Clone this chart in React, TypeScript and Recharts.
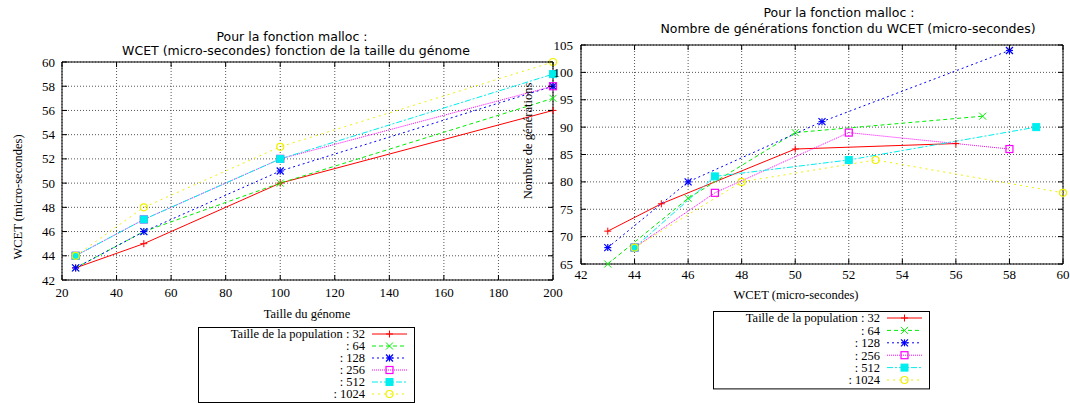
import React from 'react';
import { LineChart, Line, XAxis, YAxis, CartesianGrid, ReferenceArea } from 'recharts';

// x values of the left chart
const genomeSizes = [25, 50, 100, 200];
const populations = ['32', '64', '128', '256', '512', '1024'];

// WCET (micro-secondes) per population size
const wcet32 = [43, 45, 50, 56];
const wcet64 = [43, 46, 50, 57];
const wcet128 = [43, 46, 51, 58];
const wcet256 = [44, 47, 52, 58];
const wcet512 = [44, 47, 52, 59];
const wcet1024 = [44, 48, 53, 60];

// Nombre de générations per population size
const gen32 = [71, 76, 86, 87];
const gen64 = [65, 77, 89, 92];
const gen128 = [68, 80, 91, 104];
const gen256 = [68, 78, 89, 86];
const gen512 = [68, 81, 84, 90];
const gen1024 = [68, 80, 84, 78];

const sizeTicks = [20, 40, 60, 80, 100, 120, 140, 160, 180, 200];
const wcetTicks = [42, 44, 46, 48, 50, 52, 54, 56, 58, 60];
const genTicks = [65, 70, 75, 80, 85, 90, 95, 100, 105];

const wcetSeries = [wcet32, wcet64, wcet128, wcet256, wcet512, wcet1024];
const genSeries = [gen32, gen64, gen128, gen256, gen512, gen1024];

type MarkerKind = 'plus' | 'cross' | 'star' | 'box' | 'fbox' | 'circle';

const styles: { color: string; dash?: string; marker: MarkerKind }[] = [
  { color: '#ff0000', marker: 'plus' },
  { color: '#00ee00', dash: '4 3', marker: 'cross' },
  { color: '#0000ff', dash: '2 3', marker: 'star' },
  { color: '#ff00ff', dash: '1 1', marker: 'box' },
  { color: '#00eeee', dash: '6 2 2 2', marker: 'fbox' },
  { color: '#f0f000', dash: '2 4', marker: 'circle' },
];

const leftData = wcetSeries.map((s) => genomeSizes.map((g, i) => ({ x: g, y: s[i] })));
const rightData = wcetSeries.map((s, k) => s.map((w, i) => ({ x: w, y: genSeries[k][i] })));

const serif = '"Liberation Serif", "DejaVu Serif", serif';
const sans = '"DejaVu Sans", sans-serif';

const Marker = ({ kind, color, cx, cy }: { kind: MarkerKind; color: string; cx: number; cy: number }) => {
  const s = 3.5;
  if (cx == null || cy == null) return null;
  switch (kind) {
    case 'plus':
      return (
        <g stroke={color} strokeWidth={1}>
          <line x1={cx - s} y1={cy} x2={cx + s} y2={cy} />
          <line x1={cx} y1={cy - s} x2={cx} y2={cy + s} />
        </g>
      );
    case 'cross':
      return (
        <g stroke={color} strokeWidth={1}>
          <line x1={cx - s} y1={cy - s} x2={cx + s} y2={cy + s} />
          <line x1={cx - s} y1={cy + s} x2={cx + s} y2={cy - s} />
        </g>
      );
    case 'star':
      return (
        <g stroke={color} strokeWidth={1.2}>
          <line x1={cx - s} y1={cy} x2={cx + s} y2={cy} />
          <line x1={cx} y1={cy - s} x2={cx} y2={cy + s} />
          <line x1={cx - s} y1={cy - s} x2={cx + s} y2={cy + s} />
          <line x1={cx - s} y1={cy + s} x2={cx + s} y2={cy - s} />
        </g>
      );
    case 'box':
      return <rect x={cx - s} y={cy - s} width={2 * s} height={2 * s} fill="none" stroke={color} strokeWidth={1.2} />;
    case 'fbox':
      return <rect x={cx - s} y={cy - s} width={2 * s} height={2 * s} fill={color} stroke={color} />;
    default:
      return <circle cx={cx} cy={cy} r={s} fill="none" stroke={color} strokeWidth={1.2} />;
  }
};

// gnuplot-like ticks: label outside, small marks inside on both sides
const makeYTick = (left: number, right: number) => (p: any) => (
  <g>
    <text x={p.x} y={p.y} dy="0.35em" textAnchor="end" fontFamily={serif} fontSize={13} fill="#000">
      {p.payload.value}
    </text>
    <line x1={left} x2={left + 5} y1={p.y} y2={p.y} stroke="#000" />
    <line x1={right - 5} x2={right} y1={p.y} y2={p.y} stroke="#000" />
  </g>
);

const makeXTick = (top: number, bottom: number) => (p: any) => (
  <g>
    <text x={p.x} y={p.y} dy="0.71em" textAnchor="middle" fontFamily={serif} fontSize={13} fill="#000">
      {p.payload.value}
    </text>
    <line x1={p.x} x2={p.x} y1={bottom} y2={bottom - 5} stroke="#000" />
    <line x1={p.x} x2={p.x} y1={top} y2={top + 5} stroke="#000" />
  </g>
);

const renderLines = (data: { x: number; y: number }[][]) =>
  data.map((d, k) => (
    <Line
      key={populations[k]}
      name={populations[k]}
      data={d}
      dataKey="y"
      type="linear"
      stroke={styles[k].color}
      strokeDasharray={styles[k].dash}
      strokeWidth={1}
      activeDot={false}
      isAnimationActive={false}
      dot={(p: any) => (
        <Marker key={`${k}-${p.index}`} kind={styles[k].marker} color={styles[k].color} cx={p.cx} cy={p.cy} />
      )}
    />
  ));

const LegendBox = ({ x, y, step }: { x: number; y: number; step: number }) => (
  <g transform={`translate(${x},${y})`}>
    <rect x={0.5} y={0.5} width={216} height={step * 6 + 3} fill="none" stroke="#000" />
    {populations.map((p, i) => {
      const ry = 7 + i * step;
      const st = styles[i];
      return (
        <g key={p}>
          <text x={167} y={ry} dy="0.35em" textAnchor="end" fontFamily={serif} fontSize={12.5} fill="#000">
            {i === 0 ? `Taille de la population : ${p}` : `: ${p}`}
          </text>
          <line x1={174} x2={209} y1={ry} y2={ry} stroke={st.color} strokeDasharray={st.dash} />
          <Marker kind={st.marker} color={st.color} cx={191.5} cy={ry} />
        </g>
      );
    })}
  </g>
);

const App = () => {
  return (
    <div style={{ position: 'absolute', left: 0, top: 0, width: 1070, height: 403, overflow: 'hidden', background: '#fff' }}>
      <div style={{ position: 'absolute', left: 0, top: 0 }}>
        <LineChart width={580} height={300} margin={{ top: 62, right: 27, bottom: 0, left: 0 }}>
          <CartesianGrid stroke="#555" strokeDasharray="1 2" />
          <XAxis
            type="number"
            dataKey="x"
            domain={[20, 200]}
            ticks={sizeTicks}
            interval={0}
            height={20}
            tickSize={0}
            tickMargin={8}
            axisLine={false}
            tick={makeXTick(62, 280)}
          />
          <YAxis
            type="number"
            domain={[42, 60]}
            ticks={wcetTicks}
            interval={0}
            width={62}
            tickSize={0}
            tickMargin={7}
            axisLine={false}
            tick={makeYTick(62, 553)}
          />
          <ReferenceArea x1={20} x2={200} y1={42} y2={60} fill="none" stroke="#000" strokeWidth={1} />
          {renderLines(leftData)}
        </LineChart>
      </div>
      <div style={{ position: 'absolute', left: 530, top: 0 }}>
        <LineChart width={540} height={284} margin={{ top: 45, right: 7, bottom: 0, left: 0 }}>
          <CartesianGrid stroke="#555" strokeDasharray="1 2" />
          <XAxis
            type="number"
            dataKey="x"
            domain={[42, 60]}
            ticks={wcetTicks}
            interval={0}
            height={20}
            tickSize={0}
            tickMargin={6}
            axisLine={false}
            tick={makeXTick(45, 264)}
          />
          <YAxis
            type="number"
            domain={[65, 105]}
            ticks={genTicks}
            interval={0}
            width={51}
            tickSize={0}
            tickMargin={8}
            axisLine={false}
            tick={makeYTick(51, 533)}
          />
          <ReferenceArea x1={42} x2={60} y1={65} y2={105} fill="none" stroke="#000" strokeWidth={1} />
          {renderLines(rightData)}
        </LineChart>
      </div>
      <svg width={1070} height={403} style={{ position: 'absolute', left: 0, top: 0, pointerEvents: 'none' }}>
        <g fontFamily={sans} fontSize={12.5} fill="#000" textAnchor="middle">
          <text x={292} y={37} dy="0.35em">Pour la fonction malloc :</text>
          <text x={296} y={51} dy="0.35em">WCET (micro-secondes) fonction de la taille du génome</text>
          <text x={839} y={13} dy="0.35em">Pour la fonction malloc :</text>
          <text x={848} y={29} dy="0.35em">Nombre de générations fonction du WCET (micro-secondes)</text>
        </g>
        <g fontFamily={serif} fontSize={12.5} fill="#000" textAnchor="middle">
          <text x={18} y={197} dy="0.35em" transform="rotate(-90 18 197)">WCET (micro-secondes)</text>
          <text x={307} y={314} dy="0.35em">Taille du génome</text>
          <text x={528} y={141} dy="0.35em" transform="rotate(-90 528 141)">Nombre de générations</text>
          <text x={796} y={295} dy="0.35em">WCET (micro-secondes)</text>
        </g>
        <LegendBox x={198} y={327} step={12} />
        <LegendBox x={713} y={311} step={12.4} />
      </svg>
    </div>
  );
};

export default App;
